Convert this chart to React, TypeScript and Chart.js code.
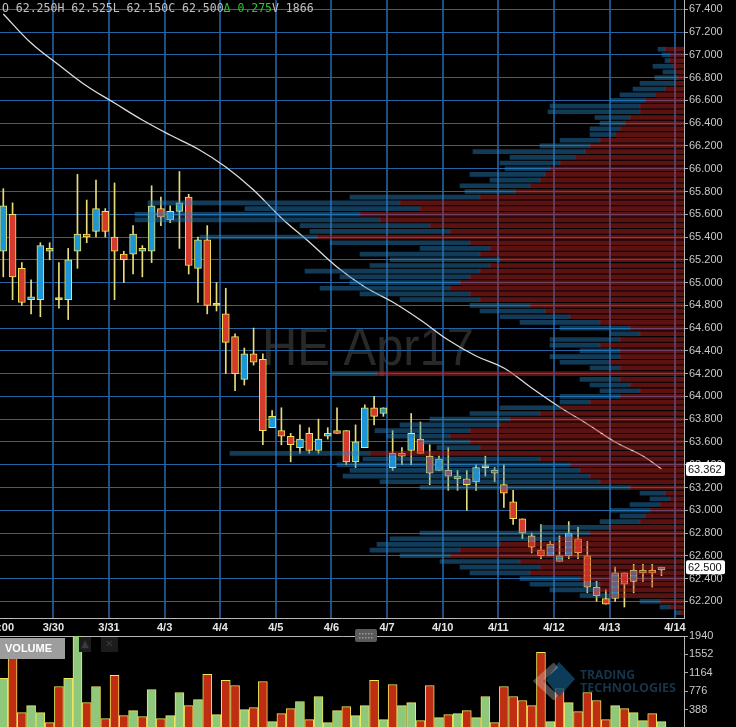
import React, { useEffect, useRef } from 'react';
import { Chart, registerables } from 'chart.js';

Chart.register(...registerables);

// ---------------- data ----------------
const sessionLabels = ['3/30', '3/31', '4/3', '4/4', '4/5', '4/6', '4/7', '4/10', '4/11', '4/12', '4/13', '4/14'];
const sessionStarts = [5.4, 11.4, 17.4, 23.4, 29.4, 35.4, 41.4, 47.4, 53.4, 59.4, 65.4, 72.45];

const opens = [65.275, 65.6, 65.125, 64.85, 64.85, 65.275, 64.85, 64.85, 65.275, 65.425,
  65.45, 65.625, 65.4, 65.25, 65.25, 65.275, 65.275, 65.65, 65.55, 65.625,
  65.75, 65.125, 65.375, 64.8, 64.725, 64.525, 64.15, 64.375, 64.325, 63.725,
  63.7, 63.65, 63.55, 63.675, 63.525, 63.65, 63.7, 63.7, 63.425, 63.55,
  63.9, 63.85, 63.375, 63.5, 63.525, 63.625, 63.475, 63.35, 63.35, 63.275,
  63.275, 63.25, 63.375, 63.35, 63.225, 63.075, 62.925, 62.775, 62.65, 62.6,
  62.55, 62.6, 62.75, 62.6, 62.325, 62.225, 62.225, 62.45, 62.375, 62.45,
  62.475, 62.475];
const highs = [65.825, 65.7, 65.175, 65.025, 65.35, 65.35, 65.175, 65.3, 65.95, 65.725,
  65.9, 65.65, 65.875, 65.275, 65.5, 65.325, 65.85, 65.75, 65.675, 65.975,
  65.775, 65.4, 65.5, 65.0, 64.95, 64.55, 64.425, 64.6, 64.375, 63.875,
  63.9, 63.675, 63.75, 63.725, 63.8, 63.725, 63.9, 63.7, 63.75, 63.925,
  64.0, 63.9, 63.7, 63.55, 63.85, 63.775, 63.575, 63.475, 63.55, 63.35,
  63.35, 63.4, 63.475, 63.375, 63.4, 63.175, 62.925, 62.8, 62.875, 62.725,
  62.775, 62.9, 62.85, 62.725, 62.375, 62.3, 62.5, 62.45, 62.525, 62.525,
  62.525, 62.5];
const lows = [65.05, 64.85, 64.8, 64.725, 64.7, 65.2, 64.775, 64.675, 65.125, 65.35,
  65.4, 65.4, 64.85, 65.0, 65.075, 65.05, 65.175, 65.5, 65.525, 65.3,
  65.075, 64.825, 64.725, 64.75, 64.2, 64.05, 64.1, 64.275, 63.575, 63.725,
  63.575, 63.425, 63.5, 63.5, 63.5, 63.625, 63.675, 63.4, 63.375, 63.55,
  63.75, 63.825, 63.35, 63.4, 63.4, 63.5, 63.225, 63.35, 63.175, 63.175,
  63.0, 63.175, 63.3, 63.25, 63.025, 62.875, 62.75, 62.625, 62.575, 62.6,
  62.55, 62.575, 62.575, 62.275, 62.2, 62.175, 62.2, 62.15, 62.275, 62.375,
  62.325, 62.425];
const closes = [65.675, 65.05, 64.825, 64.875, 65.325, 65.3, 64.85, 65.2, 65.425, 65.4,
  65.65, 65.45, 65.275, 65.2, 65.425, 65.3, 65.675, 65.575, 65.625, 65.7,
  65.15, 65.375, 64.8, 64.8, 64.475, 64.2, 64.375, 64.3, 63.7, 63.825,
  63.65, 63.575, 63.625, 63.525, 63.625, 63.675, 63.675, 63.425, 63.6, 63.9,
  63.825, 63.9, 63.5, 63.475, 63.675, 63.5, 63.325, 63.45, 63.3, 63.3,
  63.225, 63.375, 63.375, 63.325, 63.15, 62.925, 62.8, 62.675, 62.6, 62.7,
  62.6, 62.8, 62.625, 62.325, 62.25, 62.175, 62.45, 62.35, 62.475, 62.475,
  62.45, 62.5];

const volumes = [1045, 1500, 324, 472, 324, 112, 876, 1045, 1950, 536,
  876, 197, 1109, 261, 367, 240, 812, 197, 261, 748,
  472, 600, 1130, 282, 1003, 897, 388, 430, 981, 134,
  303, 409, 558, 176, 664, 112, 367, 452, 261, 472,
  1003, 176, 918, 472, 536, 155, 897, 218, 282, 303,
  367, 218, 664, 112, 876, 664, 579, 472, 1596, 134,
  833, 536, 346, 748, 579, 176, 472, 409, 324, 155,
  303, 134];
const volumeDirs = 'GRRGGRRGGRGRRRGRGRGGRGRGRRGRRGRRGRGGGRGGRGRGGRRGRGRGGRRRRRRGRGRRRRGRGGRG';

const maIndex = [0, 3, 6, 9, 12, 15, 18, 21, 24, 27, 30, 33, 36, 39, 42, 45, 48, 51, 54, 57, 60, 63, 66, 69, 71];
const maValues = [67.359, 67.104, 66.911, 66.726, 66.577, 66.428, 66.296, 66.173, 66.015, 65.813,
  65.567, 65.356, 65.137, 64.961, 64.829, 64.671, 64.495, 64.355, 64.25, 64.074,
  63.907, 63.758, 63.6, 63.477, 63.362];

const priceTicks = [62.2, 62.4, 62.6, 62.8, 63.0, 63.2, 63.4, 63.6, 63.8, 64.0, 64.2, 64.4, 64.6, 64.8,
  65.0, 65.2, 65.4, 65.6, 65.8, 66.0, 66.2, 66.4, 66.6, 66.8, 67.0, 67.2, 67.4];
const volumeTicks = [388, 776, 1164, 1552, 1940];

// volume-at-price profile, levels from 67.05 down to 62.10 in 0.05 steps
const profileTop = 67.05;
const profileStep = 0.05;
const profileSell = [95, 70, 70, 55, 45, 35, 45, 95, 145, 195,
  220, 220, 270, 295, 320, 345, 420, 470, 495, 545,
  620, 670, 695, 720, 770, 845, 1020, 1420, 1320, 1620,
  1520, 1270, 1170, 1835, 1070, 970, 1020, 920, 970, 1020,
  1070, 1120, 1170, 1070, 1020, 770, 695, 570, 420, 270,
  220, 320, 420, 320, 320, 370, 320, 1535, 320, 270,
  220, 320, 470, 620, 720, 870, 920, 1070, 1170, 1070,
  1020, 1570, 720, 570, 520, 470, 420, 270, 95, 70,
  120, 170, 195, 220, 370, 470, 620, 920, 1120, 1170,
  820, 720, 770, 520, 420, 420, 370, 120, 70, 20];
const profileBuy = [35, 40, 25, 100, 60, 110, 175, 160, 175, 175,
  450, 460, 175, 125, 150, 125, 200, 250, 560, 325,
  300, 225, 375, 250, 350, 250, 650, 1260, 875, 1125,
  1225, 650, 700, 585, 700, 350, 600, 550, 600, 875,
  650, 550, 650, 550, 400, 300, 325, 350, 400, 350,
  150, 350, 250, 200, 350, 250, 150, 225, 200, 200,
  200, 300, 150, 300, 350, 400, 500, 475, 315, 250,
  215, 700, 885, 1165, 1150, 1235, 1100, 1050, 125, 100,
  150, 200, 125, 200, 350, 850, 850, 615, 450, 250,
  400, 400, 300, 300, 350, 250, 150, 100, 50, 25];

const headerParts: [string, string][] = [
  ['O 62.250H 62.525L 62.150C 62.500', '#c2c2c2'],
  ['\u0394 0.275', '#2fc42f'],
  ['V 1866', '#c2c2c2'],
];
const lastPrice = 62.5;
const maLast = 63.362;

// ---------------- layout constants ----------------
const W = 736;
const MAIN_H = 636;
const VOL_TOP = 626;
const VOL_H = 102;
const AXIS_W = 52;
const X_MIN = -0.356;
const X_MAX = 73.43;
const Y_MIN = 62.0535;
const Y_MAX = 67.482;
const LOTS_PER_BAR = 46.35;

const RED = '#d63a2c';
const BLUE = '#1d96d6';
const DOJI = '#e2d45c';
const EDGE = '#f1e65a';
const AXIS_FONT = { family: '"Liberation Sans", Arial, sans-serif', size: 11 };

function fitText(ctx: CanvasRenderingContext2D, text: string, x: number, y: number, width: number) {
  const w = ctx.measureText(text).width;
  ctx.save();
  ctx.translate(x, y);
  ctx.scale(width / w, 1);
  ctx.fillText(text, 0, 0);
  ctx.restore();
}

function noPad(s: any) {
  s.paddingTop = 0;
  s.paddingBottom = 0;
  s.paddingLeft = 0;
  s.paddingRight = 0;
}

export default function App() {
  const mainRef = useRef<HTMLCanvasElement>(null);
  const volRef = useRef<HTMLCanvasElement>(null);

  useEffect(() => {
    const mainCanvas = mainRef.current!;
    const volCanvas = volRef.current!;

    const bodyColors = closes.map((c, i) => (c > opens[i] ? BLUE : c < opens[i] ? RED : DOJI));
    const profilePrices = profileSell.map((_, k) => +(profileTop - k * profileStep).toFixed(3));
    const sellData = profilePrices.map((p, k) => ({ y: p, x: [X_MAX - profileSell[k] / LOTS_PER_BAR, X_MAX] }));
    const buyData = profilePrices.map((p, k) => ({
      y: p,
      x: [X_MAX - (profileSell[k] + profileBuy[k]) / LOTS_PER_BAR, X_MAX - profileSell[k] / LOTS_PER_BAR],
    }));

    const mainPlugin = {
      id: 'mainDecor',
      beforeDraw(chart: any) {
        const ctx = chart.ctx as CanvasRenderingContext2D;
        ctx.save();
        ctx.fillStyle = '#000';
        ctx.fillRect(0, 0, chart.width, chart.height);
        ctx.fillStyle = '#292929';
        ctx.font = '53px "Liberation Sans", Arial, sans-serif';
        ctx.textBaseline = 'alphabetic';
        fitText(ctx, 'HE Apr17', 262, 365, 212);
        ctx.restore();
      },
      afterDraw(chart: any) {
        const ctx = chart.ctx as CanvasRenderingContext2D;
        const area = chart.chartArea;
        const ys = chart.scales.y;
        ctx.save();
        // header
        ctx.font = '11.5px "DejaVu Sans Mono", monospace';
        ctx.textBaseline = 'alphabetic';
        let x = 2;
        for (const [t, c] of headerParts) {
          ctx.fillStyle = c;
          ctx.fillText(t, x, 12);
          x += ctx.measureText(t).width;
        }
        // cropped time label at left
        ctx.font = 'bold 11px "Liberation Sans", Arial, sans-serif';
        ctx.fillStyle = '#e6e6e6';
        ctx.textAlign = 'right';
        ctx.textBaseline = 'middle';
        ctx.fillText('13:00', 14, 628);
        // price boxes
        ctx.textAlign = 'left';
        const box = (v: number, label: string) => {
          const y = ys.getPixelForValue(v);
          ctx.fillStyle = '#ffffff';
          ctx.beginPath();
          (ctx as any).roundRect(area.right + 2, y - 7, 39, 14, 2);
          ctx.fill();
          ctx.fillStyle = '#111';
          ctx.font = '11px "Liberation Sans", Arial, sans-serif';
          ctx.fillText(label, area.right + 4, y + 0.5);
        };
        box(maLast, maLast.toFixed(3));
        box(lastPrice, lastPrice.toFixed(3));
        ctx.restore();
      },
    };

    const main = new Chart(mainCanvas, {
      type: 'bar',
      data: {
        datasets: [
          {
            type: 'bar', indexAxis: 'y', data: sellData as any, backgroundColor: 'rgba(185,35,35,0.5)',
            borderWidth: 0, barThickness: 4, grouped: false, order: 0,
          } as any,
          {
            type: 'bar', indexAxis: 'y', data: buyData as any, backgroundColor: 'rgba(40,130,195,0.45)',
            borderWidth: 0, barThickness: 4, grouped: false, order: 0,
          } as any,
          {
            type: 'bar', data: opens.map((o, i) => ({ x: i, y: [o, closes[i]] })) as any,
            backgroundColor: bodyColors, borderColor: EDGE, borderWidth: 1, borderSkipped: false,
            barThickness: 7, minBarLength: 2, grouped: false, order: 1,
          } as any,
          {
            type: 'bar', data: lows.map((l, i) => ({ x: i, y: [l, highs[i]] })) as any,
            backgroundColor: '#e6dc7c', borderWidth: 0, barThickness: 1, grouped: false, order: 2,
          } as any,
          {
            type: 'line', data: maIndex.map((x, k) => ({ x, y: maValues[k] })) as any,
            borderColor: '#dcdcdc', borderWidth: 1.3, pointRadius: 0, tension: 0.4, order: 3,
          } as any,
        ],
      },
      options: {
        animation: false,
        responsive: false,
        devicePixelRatio: 1,
        layout: { padding: 0, autoPadding: false },
        plugins: { legend: { display: false }, tooltip: { enabled: false } },
        scales: {
          x: {
            type: 'linear', min: X_MIN, max: X_MAX, offset: false, bounds: 'data',
            afterBuildTicks: (s: any) => { s.ticks = sessionStarts.map((v) => ({ value: v })); },
            afterFit: (s: any) => { s.height = MAIN_H - 618; noPad(s); },
            ticks: {
              autoSkip: false, maxRotation: 0, padding: 3, color: '#e6e6e6',
              font: { ...AXIS_FONT, weight: 'bold' },
              callback: (_v: any, i: number) => sessionLabels[i],
            },
            grid: { offset: false, color: '#1d4f85', lineWidth: 2, drawTicks: false },
            border: { display: true, color: '#b8b8b8', width: 1 },
          },
          y: {
            type: 'linear', position: 'right', min: Y_MIN, max: Y_MAX, bounds: 'data', offset: false,
            afterBuildTicks: (s: any) => { s.ticks = priceTicks.map((v) => ({ value: v })); },
            afterFit: (s: any) => { s.width = AXIS_W; noPad(s); },
            ticks: { padding: 1, color: '#c8c8c8', font: AXIS_FONT, callback: (v: any) => Number(v).toFixed(3) },
            grid: { offset: false, color: '#2563a3', lineWidth: 1, tickLength: 4, tickColor: '#aaaaaa' },
            border: { display: true, color: '#b8b8b8', width: 1 },
          },
        },
      } as any,
      plugins: [mainPlugin],
    });

    const volPlugin = {
      id: 'volDecor',
      afterDraw(chart: any) {
        const ctx = chart.ctx as CanvasRenderingContext2D;
        const oy = -VOL_TOP;
        ctx.save();
        // Trading Technologies logo (translucent)
        ctx.globalAlpha = 0.8;
        ctx.fillStyle = '#0f4b70';
        ctx.beginPath();
        ctx.moveTo(559, 662 + oy);
        ctx.lineTo(575, 679 + oy);
        ctx.lineTo(559, 697 + oy);
        ctx.lineTo(546, 680 + oy);
        ctx.closePath();
        ctx.fill();
        ctx.globalAlpha = 0.35;
        ctx.strokeStyle = '#d0d0d0';
        ctx.lineWidth = 7;
        ctx.beginPath();
        ctx.moveTo(556, 665 + oy);
        ctx.lineTo(538, 681 + oy);
        ctx.lineTo(556, 698 + oy);
        ctx.stroke();
        ctx.globalAlpha = 0.85;
        ctx.fillStyle = '#1b3d58';
        ctx.font = 'bold 12px "Open Sans", Arial, sans-serif';
        ctx.textBaseline = 'alphabetic';
        fitText(ctx, 'TRADING', 580, 679 + oy, 55);
        fitText(ctx, 'TECHNOLOGIES', 580, 692 + oy, 96);
        ctx.globalAlpha = 1;
        // VOLUME label box
        ctx.fillStyle = '#9d9d9d';
        ctx.fillRect(0, 638 + oy, 65, 21);
        ctx.fillStyle = '#ffffff';
        ctx.font = 'bold 11px "Liberation Sans", Arial, sans-serif';
        ctx.textBaseline = 'middle';
        ctx.fillText('VOLUME', 5, 649 + oy);
        // small icons
        ctx.fillStyle = '#1c1c1c';
        ctx.fillRect(79, 637 + oy, 12, 15);
        ctx.fillRect(101, 637 + oy, 17, 15);
        ctx.fillStyle = '#3c3c3c';
        ctx.font = 'bold 10px "DejaVu Sans", sans-serif';
        ctx.textAlign = 'center';
        ctx.fillText('\u25B2', 85, 644 + oy);
        ctx.fillText('\u2715', 109.5, 644 + oy);
        // panel grip
        ctx.fillStyle = '#5a5a5a';
        ctx.beginPath();
        (ctx as any).roundRect(355, 629 + oy, 22, 13, 2);
        ctx.fill();
        ctx.fillStyle = '#9a9a9a';
        for (let gx = 0; gx < 5; gx++) {
          ctx.fillRect(359 + gx * 3, 633 + oy, 1.5, 1.5);
          ctx.fillRect(359 + gx * 3, 637 + oy, 1.5, 1.5);
        }
        ctx.restore();
      },
    };

    const vol = new Chart(volCanvas, {
      type: 'bar',
      data: {
        datasets: [
          {
            data: volumes.map((v, i) => ({ x: i, y: v })) as any,
            backgroundColor: volumes.map((_, i) => (volumeDirs[i] === 'G' ? '#8fc77b' : '#bf2d12')),
            borderColor: '#efe85e', borderWidth: 1, borderSkipped: false,
            barThickness: 9, grouped: false,
          } as any,
        ],
      },
      options: {
        animation: false,
        responsive: false,
        devicePixelRatio: 1,
        layout: { padding: { top: 10, left: 0, right: 0, bottom: 0 }, autoPadding: false },
        plugins: { legend: { display: false }, tooltip: { enabled: false } },
        scales: {
          x: {
            type: 'linear', position: 'top', min: X_MIN, max: X_MAX, offset: false, bounds: 'data',
            afterFit: (s: any) => { s.height = 0; noPad(s); },
            ticks: { display: false },
            grid: { display: false, offset: false },
            border: { display: true, color: '#b8b8b8', width: 1 },
          },
          y: {
            type: 'linear', position: 'right', min: 0, max: 1940, bounds: 'data', offset: false,
            afterBuildTicks: (s: any) => { s.ticks = volumeTicks.map((v) => ({ value: v })); },
            afterFit: (s: any) => { s.width = AXIS_W; noPad(s); },
            ticks: { padding: 1, color: '#c8c8c8', font: AXIS_FONT, callback: (v: any) => String(v) },
            grid: { drawOnChartArea: false, tickLength: 4, tickColor: '#aaaaaa' },
            border: { display: true, color: '#b8b8b8', width: 1 },
          },
        },
      } as any,
      plugins: [volPlugin],
    });

    return () => {
      main.destroy();
      vol.destroy();
    };
  }, []);

  return (
    <div style={{ position: 'fixed', left: 0, top: 0, width: W, height: 727, background: '#000', overflow: 'hidden' }}>
      <canvas ref={mainRef} width={W} height={MAIN_H} style={{ position: 'absolute', left: 0, top: 0, width: W, height: MAIN_H }} />
      <canvas ref={volRef} width={W} height={VOL_H} style={{ position: 'absolute', left: 0, top: VOL_TOP, width: W, height: VOL_H }} />
    </div>
  );
}
